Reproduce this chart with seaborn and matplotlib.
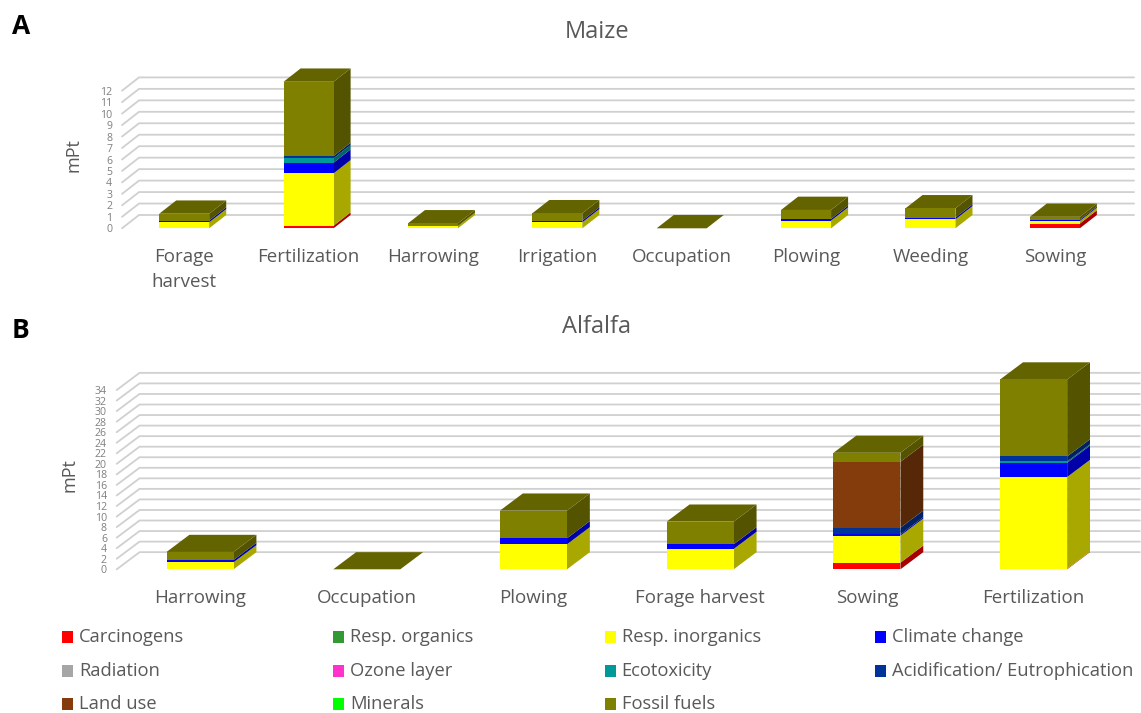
import numpy as np
import matplotlib
matplotlib.use("Agg")
import matplotlib.pyplot as plt
from matplotlib.colors import to_rgb
from matplotlib.patches import Rectangle
import seaborn as sns

W, H = 1141, 713

# Datos panel A
maize_process = ['Forage\nharvest', 'Fertilization', 'Harrowing', 'Irrigation', 'Occupation', 'Plowing', 'Weeding', 'Sowing']
maize_carcinogens = [0, 0.23, 0, 0, 0, 0, 0, 0.41]
maize_inorganics = [0.52, 4.56, 0.20, 0.52, 0, 0.67, 0.78, 0.23]
maize_climate = [0.15, 0.93, 0, 0.15, 0, 0.15, 0.15, 0.10]
maize_ecotox = [0, 0.38, 0, 0, 0, 0, 0, 0]
maize_acid = [0, 0.20, 0, 0, 0, 0, 0, 0]
maize_landuse = [0, 0, 0, 0, 0, 0, 0, 0]
maize_fossil = [0.60, 6.48, 0.23, 0.64, 0, 0.78, 0.81, 0.26]
maize_ticks = list(range(0, 13))

# Datos panel B
alfalfa_process = ['Harrowing', 'Occupation', 'Plowing', 'Forage harvest', 'Sowing', 'Fertilization']
alfalfa_carcinogens = [0, 0, 0, 0, 1.26, 0.1]
alfalfa_inorganics = [1.33, 0, 4.74, 3.86, 5.12, 17.4]
alfalfa_climate = [0.44, 0, 1.14, 0.88, 0.25, 2.7]
alfalfa_ecotox = [0, 0, 0, 0, 0, 0.25]
alfalfa_acid = [0, 0, 0, 0, 1.26, 0.95]
alfalfa_landuse = [0, 0, 0, 0, 12.5, 0]
alfalfa_fossil = [1.52, 0, 5.25, 4.3, 1.7, 14.6]
alfalfa_ticks = list(range(0, 35, 2))

# Leyenda
legend_names = ['Carcinogens', 'Resp. organics', 'Resp. inorganics', 'Climate change',
                'Radiation', 'Ozone layer', 'Ecotoxicity', 'Acidification/ Eutrophication',
                'Land use', 'Minerals', 'Fossil fuels']
legend_colors = ['#ff0000', '#339933', '#ffff00', '#0000ff',
                 '#a6a6a6', '#ff33cc', '#009999', '#003399',
                 '#843c0c', '#00ff00', '#808000']
stack_colors = ['#ff0000', '#ffff00', '#0000ff', '#009999', '#003399', '#843c0c', '#808000']

TEXT = '#595959'
TICK = '#7f7f7f'
GRID = '#d0d0d0'

sns.set_theme(style="white")
plt.rcParams['font.family'] = ['Open Sans', 'DejaVu Sans']

fig = plt.figure(figsize=(W / 100, H / 100), dpi=100, facecolor='white')


def shade(color, f):
    return tuple(c * f for c in to_rgb(color))


def panel(rect, process, series, ticks, depth_y):
    # rect en pixeles: izquierda, arriba (valor max), derecha, abajo (valor 0)
    left, top, right, bottom = rect
    ax = fig.add_axes([left / W, 1 - bottom / H, (right - left) / W, (bottom - top) / H])
    ax.patch.set_alpha(0)
    n = len(process)
    depth_x = 0.137
    width = 0.402

    # Paredes y lineas de la grilla
    for t in ticks:
        ax.plot([-0.5, -0.5 + depth_x, n - 0.5 + depth_x], [t, t + depth_y, t + depth_y],
                color=GRID, lw=1.3, zorder=1, clip_on=False, solid_joinstyle='miter')

    # Barras apiladas
    base = np.zeros(n)
    for vals, col in zip(series, stack_colors):
        vals = np.array(vals, dtype=float)
        sns.barplot(x=process, y=vals, order=process, bottom=base, color=col, saturation=1,
                    width=width, linewidth=0, zorder=4, clip_on=False, ax=ax)
        side = shade(col, 0.66)
        for i in range(n):
            if vals[i] > 0:
                x1 = i + width / 2
                y0, y1 = base[i], base[i] + vals[i]
                ax.fill([x1, x1 + depth_x, x1 + depth_x, x1],
                        [y0, y0 + depth_y, y1 + depth_y, y1],
                        color=side, lw=0, zorder=3, clip_on=False)
        base = base + vals

    # Cara superior
    top_col = shade(stack_colors[-1], 0.77)
    for i in range(n):
        x0, x1 = i - width / 2, i + width / 2
        y = base[i]
        ax.fill([x0, x1, x1 + depth_x, x0 + depth_x], [y, y, y + depth_y, y + depth_y],
                color=top_col, lw=0, zorder=3, clip_on=False)

    ax.set_xlim(-0.5, n - 0.5)
    ax.set_ylim(0, ticks[-1])
    ax.set_yticks(ticks)
    ax.set_xticks(range(n))
    ax.set_xticklabels(process, fontsize=13.5, color=TEXT, linespacing=1.55)
    ax.tick_params(axis='y', length=0, pad=7, labelsize=7.6, labelcolor=TICK)
    ax.tick_params(axis='x', length=0, pad=14)
    ax.set_xlabel('')
    ax.set_ylabel('')
    sns.despine(ax=ax, left=True, bottom=True)
    return ax


panel((122, 90.7, 1117, 228.3), maize_process,
      [maize_carcinogens, maize_inorganics, maize_climate, maize_ecotox, maize_acid, maize_landuse, maize_fossil],
      maize_ticks, 1.16)
panel((116.7, 390, 1117, 569.3), alfalfa_process,
      [alfalfa_carcinogens, alfalfa_inorganics, alfalfa_climate, alfalfa_ecotox, alfalfa_acid, alfalfa_landuse, alfalfa_fossil],
      alfalfa_ticks, 3.25)

# Capa en pixeles para titulos y leyenda
over = fig.add_axes([0, 0, 1, 1])
over.set_xlim(0, W)
over.set_ylim(H, 0)
over.axis('off')

over.text(21, 27, 'A', fontsize=19, fontweight='bold', color='black', ha='center', va='center')
over.text(21, 330, 'B', fontsize=19, fontweight='bold', color='black', ha='center', va='center')
over.text(597, 32, 'Maize', fontsize=17, color=TEXT, ha='center', va='center')
over.text(597, 327, 'Alfalfa', fontsize=17, color=TEXT, ha='center', va='center')
over.text(74, 155, 'mPt', fontsize=13, color=TEXT, rotation=90, ha='center', va='center')
over.text(69, 475, 'mPt', fontsize=13, color=TEXT, rotation=90, ha='center', va='center')

col_x = [62, 333, 604.5, 875]
row_y = [637, 671, 704]
for k, (name, col) in enumerate(zip(legend_names, legend_colors)):
    x = col_x[k % 4]
    y = row_y[k // 4]
    over.add_patch(Rectangle((x, y - 6), 11, 12, color=col, lw=0))
    over.text(x + 17, y, name, fontsize=13.2, color=TEXT, ha='left', va='center')

fig.savefig('out.png', dpi=100)
